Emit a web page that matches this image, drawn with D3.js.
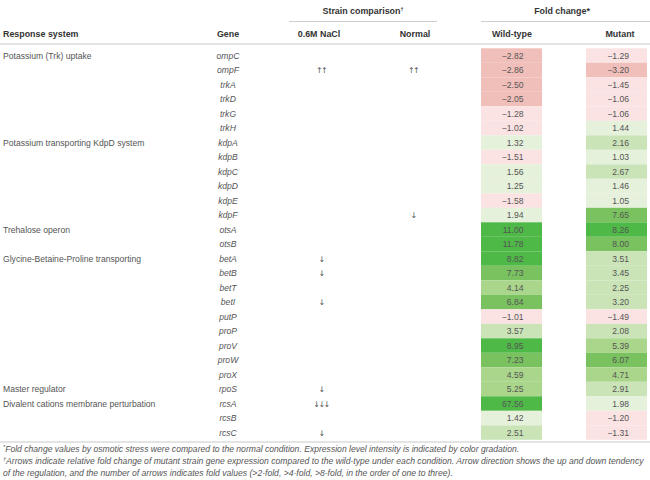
<!DOCTYPE html>
<html>
<head>
<meta charset="utf-8">
<script src="https://cdn.jsdelivr.net/npm/d3@7"></script>
<style>
  html, body { margin: 0; padding: 0; background: #fff; }
  svg { display: block; font-family: "Liberation Sans", Arial, sans-serif; }
</style>
</head>
<body>
<svg id="chart" width="650" height="480"></svg>
<script>
// ---- data ----
const genes = ["ompC","ompF","trkA","trkD","trkG","trkH",
  "kdpA","kdpB","kdpC","kdpD","kdpE","kdpF",
  "otsA","otsB",
  "betA","betB","betT","betI","putP","proP","proV","proW","proX",
  "rpoS","rcsA","rcsB","rcsC"];
const systems = ["Potassium (Trk) uptake","","","","","",
  "Potassium transporting KdpD system","","","","","",
  "Trehalose operon","",
  "Glycine-Betaine-Proline transporting","","","","","","","","",
  "Master regulator",
  "Divalent cations membrane perturbation","",""];
const naclArrows = ["","↑↑","","","","", "","","","","","", "","",
  "↓","↓","","↓","","","","","", "↓","↓↓↓","","↓"];
const normalArrows = ["","↑↑","","","","", "","","","","","↓", "","",
  "","","","","","","","","", "","","",""];
const wildType = [-2.82,-2.86,-2.50,-2.05,-1.28,-1.02,
  1.32,-1.51,1.56,1.25,-1.58,1.94,
  11.00,11.78,
  8.82,7.73,4.14,6.84,-1.01,3.57,8.95,7.23,4.59,
  5.25,67.56,1.42,2.51];
const mutant = [-1.29,-3.20,-1.45,-1.06,-1.06,1.44,
  2.16,1.03,2.67,1.46,1.05,7.65,
  8.26,8.00,
  3.51,3.45,2.25,3.20,-1.49,2.08,5.39,6.07,4.71,
  2.91,1.98,-1.20,-1.31];
const colLabels = ["Response system","Gene","0.6M NaCl","Normal","Wild-type","Mutant"];
const groupLabels = ["Strain comparison","Fold change*"];
const footnotes = [
  ["*","Fold change values by osmotic stress were compared to the normal condition. Expression level intensity is indicated by color gradation."],
  ["†","Arrows indicate relative fold change of mutant strain gene expression compared to the wild-type under each condition. Arrow direction shows the up and down tendency"],
  ["","of the regulation, and the number of arrows indicates fold values (>2-fold, >4-fold, >8-fold, in the order of one to three)."]
];
const colorBreaks = [-2, 0, 2, 4, 6, 8.01];
const colorRange = ["#f1bfba","#fbe3e3","#e5f1db","#cae4b8","#a9d68b","#79c25f","#4fb948"];

// ---- layout ----
const svg = d3.select("#chart");
const W = 650;
const y = d3.scaleBand().domain(d3.range(genes.length)).range([48.3, 48.3 + 27 * 14.5]).padding(0);
const color = d3.scaleThreshold().domain(colorBreaks).range(colorRange);
const fmt = d3.format(".2f");
const txt = "#555";
const fs = 8.6;
const hfs = 8.9;

const cols = { sys: 3, gene: 228, nacl: 321, normal: 413, wt: [481, 542], mut: [586, 647] };

// header lines
svg.append("line").attr("x1", 289).attr("x2", 437).attr("y1", 21.5).attr("y2", 21.5)
  .attr("stroke", "#cfcfcf").attr("stroke-width", 1);
svg.append("line").attr("x1", 481).attr("x2", 650).attr("y1", 21.5).attr("y2", 21.5)
  .attr("stroke", "#cfcfcf").attr("stroke-width", 1);
svg.append("line").attr("x1", 0).attr("x2", W).attr("y1", 44).attr("y2", 44)
  .attr("stroke", "#e4e4e4").attr("stroke-width", 2);
svg.append("line").attr("x1", 0).attr("x2", W).attr("y1", 442).attr("y2", 442)
  .attr("stroke", "#e4e4e4").attr("stroke-width", 2);

// group headers
const g1 = svg.append("text").attr("x", 363).attr("y", 14).attr("text-anchor", "middle")
  .attr("font-size", hfs).attr("font-weight", "bold").attr("fill", "#333");
g1.append("tspan").text(groupLabels[0]);
g1.append("tspan").attr("font-size", 5.5).attr("dy", -3).text("†");
svg.append("text").attr("x", 562).attr("y", 14).attr("text-anchor", "middle")
  .attr("font-size", hfs).attr("font-weight", "bold").attr("fill", "#333").text(groupLabels[1]);

// column headers
const colX = [cols.sys, cols.gene, 319, 415, 512, 620];
svg.selectAll("text.colh").data(colLabels).enter().append("text")
  .attr("class", "colh")
  .attr("x", (d, i) => colX[i]).attr("y", 36.5)
  .attr("text-anchor", (d, i) => i === 0 ? "start" : "middle")
  .attr("font-size", hfs).attr("font-weight", "bold").attr("fill", "#333")
  .text(d => d);

// cells
const rows = svg.append("g");
const idx = d3.range(genes.length);
rows.selectAll("rect.wt").data(idx).enter().append("rect")
  .attr("x", cols.wt[0]).attr("width", cols.wt[1] - cols.wt[0])
  .attr("y", i => y(i)).attr("height", y.bandwidth())
  .attr("fill", i => color(wildType[i]));
rows.selectAll("rect.mut").data(idx).enter().append("rect")
  .attr("x", cols.mut[0]).attr("width", cols.mut[1] - cols.mut[0])
  .attr("y", i => y(i)).attr("height", y.bandwidth())
  .attr("fill", i => color(mutant[i]));

const rowText = (cls, xv, anchor, fn, style, family) => {
  const t = rows.selectAll("text." + cls).data(idx).enter().append("text")
    .attr("class", cls)
    .attr("x", xv).attr("y", i => y(i) + y.bandwidth() / 2 + 3)
    .attr("text-anchor", anchor)
    .attr("font-size", fs).attr("fill", txt)
    .attr("font-style", style || "normal")
    .text(fn);
  if (family) t.attr("font-family", family).attr("letter-spacing", -1.6).attr("font-size", 8);
};
rowText("sys", cols.sys, "start", i => systems[i]);
rowText("gene", cols.gene, "middle", i => genes[i], "italic");
rowText("nacl", cols.nacl, "middle", i => naclArrows[i], null, "DejaVu Sans");
rowText("norm", cols.normal, "middle", i => normalArrows[i], null, "DejaVu Sans");
rowText("wtv", 523.5, "end", i => fmt(wildType[i]));
rowText("mutv", 629, "end", i => fmt(mutant[i]));

// footnotes
const fy = [452, 464, 476];
footnotes.forEach((f, k) => {
  const t = svg.append("text").attr("x", 3).attr("y", fy[k])
    .attr("font-size", 8.6).attr("font-style", "italic").attr("fill", txt);
  if (f[0]) t.append("tspan").attr("font-size", 5.5).attr("dy", -2.8).text(f[0]);
  t.append("tspan").attr("dy", f[0] ? 2.8 : 0).text(f[1]);
});
</script>
</body>
</html>
